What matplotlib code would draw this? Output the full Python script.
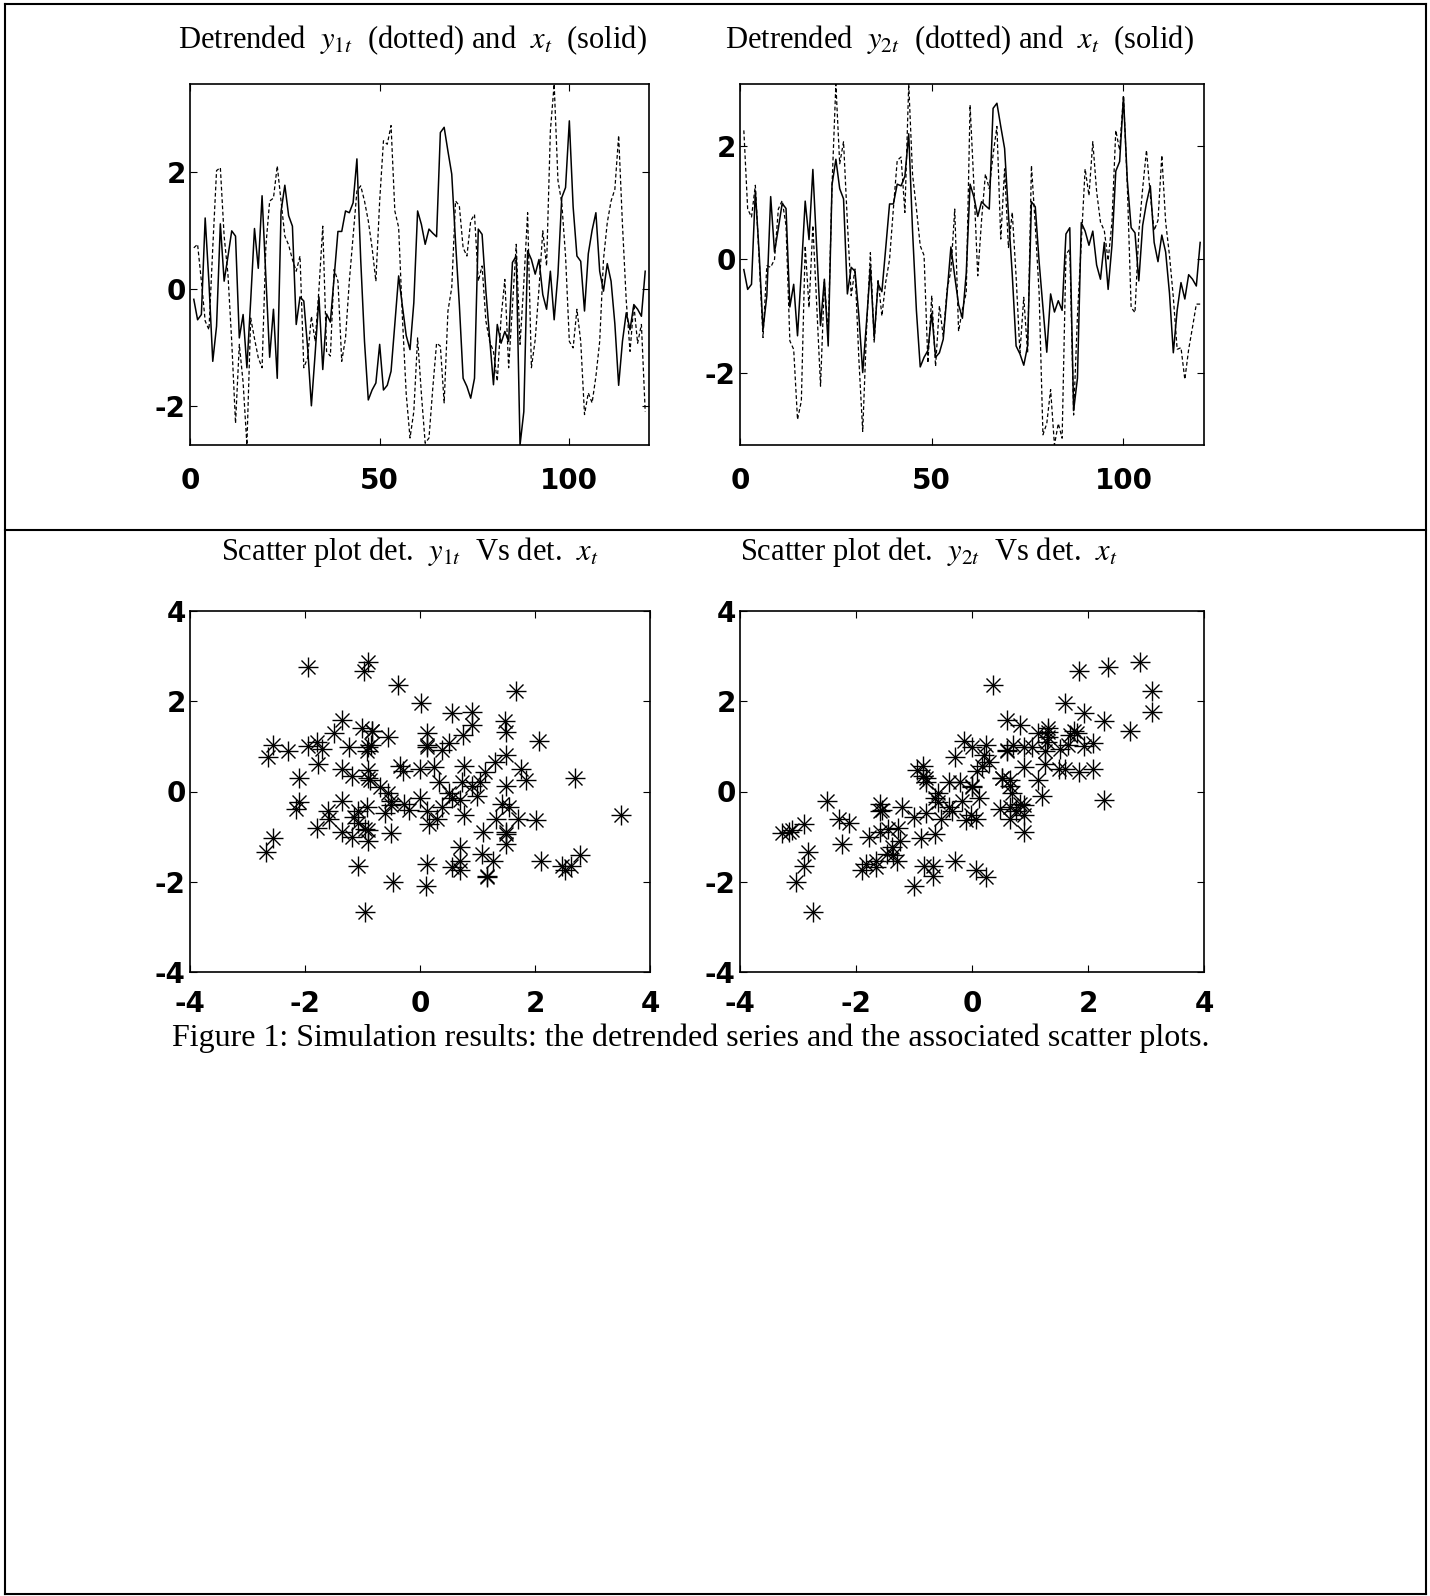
import numpy as np
import matplotlib
matplotlib.use("Agg")
import matplotlib.pyplot as plt
from matplotlib.lines import Line2D

# -------------------------
# Data (t = 1..120)
# -------------------------
x_t = [-0.18, -0.53, -0.44, 1.21, 0.10, -1.24, -0.64, 1.11, 0.13, 0.55,
       0.99, 0.90, -0.84, -0.44, -1.35, -0.20, 1.03, 0.35, 1.59, 0.20,
       -1.17, -0.35, -1.53, 1.32, 1.77, 1.25, 1.07, -0.61, -0.14, -0.21,
       -1.00, -2.00, -1.10, -0.14, -1.38, -0.43, -0.57, 0.20, 0.98, 0.98,
       1.33, 1.30, 1.47, 2.22, 0.50, -0.90, -1.90, -1.73, -1.61, -0.95,
       -1.73, -1.65, -1.41, -0.60, 0.22, -0.30, -0.80, -1.04, -0.24, 1.33,
       1.10, 0.76, 1.02, 0.95, 0.89, 2.67, 2.76, 2.35, 1.96, 0.80,
       -0.27, -1.53, -1.67, -1.87, -1.53, 1.02, 0.93, -0.04, -0.85, -1.64,
       -0.61, -0.93, -0.73, -0.90, 0.45, 0.56, -2.67, -2.10, 0.65, 0.50,
       0.25, 0.50, -0.10, -0.35, 0.30, -0.53, 0.25, 1.56, 1.73, 2.87,
       1.40, 0.56, 0.47, -0.38, 0.60, 1.00, 1.30, 0.30, -0.04, 0.43,
       0.13, -0.60, -1.65, -0.90, -0.41, -0.70, -0.27, -0.35, -0.47, 0.30]

y1_t = [0.70, 0.76, 0.13, -0.55, -0.70, 0.70, 2.02, 2.07, 0.90, 0.25,
        -0.90, -2.30, -0.95, -1.60, -2.67, -0.50, -0.85, -1.18, -1.35, 0.73,
        1.50, 1.55, 2.10, 1.50, 0.90, 0.75, 0.50, 0.30, 0.56, -1.35,
        -1.18, -0.47, -0.90, 0.00, 1.07, -1.07, -1.15, 0.33, 0.13, -1.24,
        -0.84, 0.13, 0.90, 1.67, 1.76, 1.50, 1.16, 0.70, 0.13, 1.50,
        2.53, 2.47, 2.79, 1.33, 1.05, -0.50, -1.80, -2.55, -2.10, -0.84,
        -1.80, -2.64, -2.55, -1.70, -0.93, -0.98, -1.95, -0.38, 0.02, 1.50,
        1.42, 0.70, 0.56, 1.16, 1.27, 0.13, 0.39, -0.55, -0.90, -1.07,
        -1.58, -0.50, 0.16, -1.35, -0.30, 0.76, -0.95, 0.10, 1.30, -1.35,
        -0.87, 0.00, 0.99, 0.39, 2.70, 3.50, 1.85, 1.47, 0.56, -0.90,
        -1.01, -0.35, -0.90, -2.15, -1.78, -1.95, -1.50, -0.90, 0.50, 1.13,
        1.50, 1.70, 2.62, 1.10, -0.20, -1.07, -0.27, -0.93, -0.61, -2.10]

y2_t = [2.28, 0.89, 0.75, 1.31, 0.00, -1.38, -0.11, -0.14, 0.00, 0.89,
        1.04, 0.60, -1.44, -1.59, -2.83, -2.50, 0.24, -0.85, 0.60, -0.80,
        -2.24, -0.40, -1.30, 1.31, 3.10, 1.69, 2.08, 0.66, -0.64, -0.17,
        -1.77, -3.04, -1.24, 0.12, -1.47, -0.35, -1.00, -0.40, 0.00, 0.90,
        1.75, 1.81, 0.83, 3.10, 1.50, 0.90, 0.24, 0.07, -1.83, -0.64,
        -1.89, -0.82, -1.36, -0.53, -0.20, 0.89, -1.27, -0.88, -0.59, 2.73,
        1.30, -0.29, 0.70, 1.51, 1.25, 1.85, 2.35, 0.36, 1.60, 0.21,
        0.83, -0.30, -1.65, -0.67, -1.65, 1.66, 0.60, -0.59, -3.10, -2.90,
        -2.30, -3.28, -2.90, -3.16, 0.09, 0.18, -2.75, -1.00, 0.30, 1.60,
        1.13, 2.08, 1.20, 0.66, 0.51, -0.02, 0.66, 2.28, 1.93, 2.90,
        1.31, -0.85, -0.94, 0.48, 1.25, 1.93, 1.13, 0.51, 0.69, 1.84,
        0.66, 0.07, -0.67, -1.59, -1.56, -2.12, -1.59, -1.20, -0.79, -0.79]

t = np.arange(1, len(x_t) + 1)
time_ticks = [0, 50, 100]
scatter_ticks = [-4, -2, 0, 2, 4]

# -------------------------
# Style
# -------------------------
plt.rcParams["axes.unicode_minus"] = False
plt.rcParams["mathtext.fontset"] = "stix"
serif = ["Liberation Serif", "DejaVu Serif"]
tick_font = dict(family="DejaVu Sans", weight="bold", size=20)

W, H = 1430, 1596
fig = plt.figure(figsize=(W / 100, H / 100), dpi=100)


def box(x0, y0, x1, y1):
    """pixel box (top-left origin) -> figure fraction rect"""
    return [x0 / W, 1 - y1 / H, (x1 - x0) / W, (y1 - y0) / H]


def style_axes(ax, xpad):
    for s in ax.spines.values():
        s.set_linewidth(1.2)
    ax.tick_params(direction="in", length=5, width=0.8, top=True, right=True,
                   labelsize=tick_font["size"])
    ax.tick_params(axis="x", pad=xpad)
    ax.tick_params(axis="y", pad=3)
    for lab in ax.get_xticklabels() + ax.get_yticklabels():
        lab.set_fontfamily(tick_font["family"])
        lab.set_fontweight(tick_font["weight"])


def series_plot(rect, y):
    ax = fig.add_axes(rect)
    ax.plot(t, x_t, color="k", lw=1.1)
    ax.plot(t, y, color="k", lw=0.9, linestyle=(0, (3, 2)))
    ax.set_xlim(0, t[-1] + 1)
    ax.set_ylim(min(min(x_t), min(y)), max(max(x_t), max(y)))
    ax.set_xticks(time_ticks)
    ax.set_yticks([-2, 0, 2])
    style_axes(ax, 16)
    return ax


def scatter_plot(rect, y):
    ax = fig.add_axes(rect)
    # matlab-style '*' marker: a plus with an x on top
    ax.plot(y, x_t, linestyle="none", marker="+", ms=15, mew=1.0, color="k")
    ax.plot(y, x_t, linestyle="none", marker="x", ms=10, mew=1.0, color="k")
    ax.set_xlim(-4, 4)
    ax.set_ylim(-4, 4)
    ax.set_xticks(scatter_ticks)
    ax.set_yticks(scatter_ticks)
    style_axes(ax, 13)
    return ax


series_plot(box(190, 84, 649, 445), y1_t)
series_plot(box(740, 84, 1204, 445), y2_t)
scatter_plot(box(190, 611, 650, 972), y1_t)
scatter_plot(box(740, 611, 1204, 972), y2_t)

# titles
def ftext(px, py, s, size=22):
    fig.text(px / W, 1 - py / H, s, ha="center", va="center",
             family=serif, fontsize=size)

ftext(412, 40, r"Detrended  $y_{1t}$  (dotted) and  $x_t$  (solid)")
ftext(959, 40, r"Detrended  $y_{2t}$  (dotted) and  $x_t$  (solid)")
ftext(410, 552, r"Scatter plot det.  $y_{1t}$  Vs det.  $x_t$")
ftext(929, 552, r"Scatter plot det.  $y_{2t}$  Vs det.  $x_t$")
ftext(691, 1038, "Figure 1: Simulation results: the detrended series and the associated scatter plots.", 23)

# page frame and divider
lw_frame = 1.5
fx0, fx1 = 5 / W, 1426 / W
fy0, fy1 = 1 - 1594 / H, 1 - 4 / H
for xs, ys in [([fx0, fx1], [fy1, fy1]), ([fx0, fx1], [fy0, fy0]),
               ([fx0, fx0], [fy0, fy1]), ([fx1, fx1], [fy0, fy1]),
               ([fx0, fx1], [1 - 530 / H, 1 - 530 / H])]:
    fig.add_artist(Line2D(xs, ys, transform=fig.transFigure, color="k",
                          lw=lw_frame))

fig.savefig("out.png", dpi=100, facecolor="white")
